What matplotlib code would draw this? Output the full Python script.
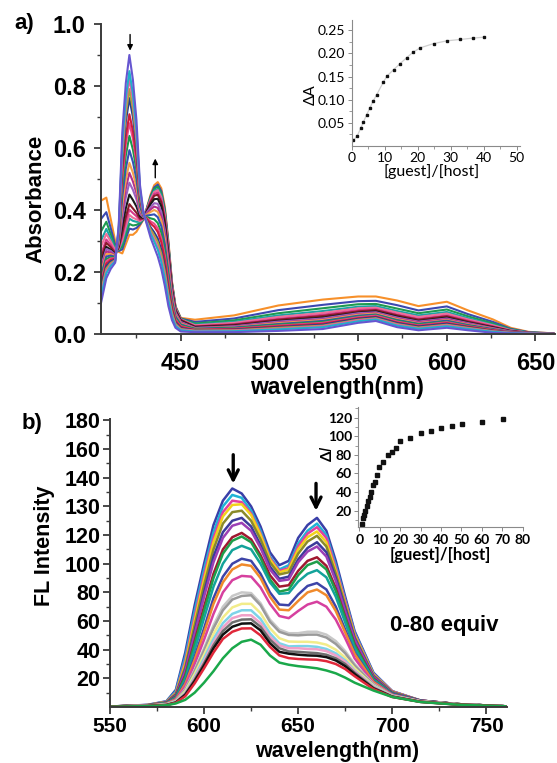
import matplotlib
matplotlib.use("Agg")
import matplotlib.pyplot as plt

plt.rcParams["font.family"] = ["Liberation Sans", "DejaVu Sans"]

# ---------------- panel a: absorbance titration ----------------
abs_wl = [405, 408, 410.5, 413, 415, 417, 419, 421, 423, 425, 427, 429, 431, 433, 435,
          437, 439, 441, 443, 445, 447, 450, 458, 480, 505, 530, 550, 560, 572, 584,
          600, 612, 626, 636, 646, 660]

abs_curves = [
    [0.100, 0.180, 0.210, 0.230, 0.350, 0.650, 0.810, 0.900, 0.820, 0.690, 0.480, 0.390, 0.350, 0.310, 0.280, 0.250, 0.210, 0.155, 0.090, 0.045, 0.020, 0.008, 0.006, 0.006, 0.010, 0.016, 0.036, 0.042, 0.022, 0.012, 0.020, 0.012, 0.004, 0.002, 0.001, 0.000],
    [0.120, 0.196, 0.220, 0.234, 0.342, 0.615, 0.763, 0.848, 0.775, 0.658, 0.468, 0.388, 0.355, 0.323, 0.298, 0.272, 0.233, 0.178, 0.109, 0.056, 0.026, 0.012, 0.008, 0.009, 0.015, 0.022, 0.041, 0.047, 0.027, 0.017, 0.025, 0.016, 0.007, 0.003, 0.001, 0.000],
    [0.130, 0.203, 0.224, 0.236, 0.339, 0.599, 0.742, 0.825, 0.755, 0.643, 0.463, 0.387, 0.358, 0.328, 0.306, 0.281, 0.244, 0.188, 0.117, 0.061, 0.029, 0.014, 0.010, 0.011, 0.017, 0.025, 0.044, 0.049, 0.030, 0.019, 0.028, 0.018, 0.008, 0.004, 0.002, 0.000],
    [0.140, 0.211, 0.229, 0.238, 0.334, 0.576, 0.711, 0.790, 0.725, 0.622, 0.455, 0.386, 0.361, 0.337, 0.318, 0.296, 0.259, 0.203, 0.130, 0.069, 0.033, 0.016, 0.011, 0.012, 0.020, 0.027, 0.046, 0.051, 0.032, 0.021, 0.030, 0.020, 0.009, 0.004, 0.002, 0.000],
    [0.150, 0.219, 0.234, 0.240, 0.330, 0.556, 0.685, 0.761, 0.700, 0.604, 0.449, 0.385, 0.364, 0.344, 0.328, 0.308, 0.272, 0.216, 0.140, 0.075, 0.037, 0.019, 0.012, 0.014, 0.022, 0.030, 0.049, 0.054, 0.035, 0.024, 0.033, 0.022, 0.010, 0.005, 0.002, 0.000],
    [0.159, 0.227, 0.239, 0.243, 0.322, 0.521, 0.638, 0.709, 0.655, 0.571, 0.437, 0.383, 0.370, 0.356, 0.346, 0.329, 0.296, 0.239, 0.159, 0.086, 0.043, 0.023, 0.013, 0.016, 0.025, 0.033, 0.051, 0.056, 0.037, 0.026, 0.035, 0.024, 0.012, 0.005, 0.002, 0.000],
    [0.169, 0.235, 0.244, 0.245, 0.318, 0.502, 0.612, 0.680, 0.630, 0.553, 0.431, 0.382, 0.373, 0.363, 0.356, 0.341, 0.309, 0.252, 0.170, 0.093, 0.047, 0.025, 0.014, 0.017, 0.027, 0.036, 0.054, 0.059, 0.040, 0.028, 0.038, 0.025, 0.013, 0.006, 0.002, 0.000],
    [0.179, 0.242, 0.248, 0.247, 0.312, 0.474, 0.576, 0.639, 0.595, 0.528, 0.421, 0.381, 0.377, 0.373, 0.370, 0.358, 0.327, 0.270, 0.185, 0.101, 0.052, 0.028, 0.016, 0.019, 0.030, 0.039, 0.056, 0.061, 0.043, 0.031, 0.040, 0.027, 0.014, 0.006, 0.002, 0.000],
    [0.189, 0.250, 0.253, 0.249, 0.305, 0.443, 0.534, 0.593, 0.555, 0.499, 0.411, 0.379, 0.382, 0.384, 0.386, 0.377, 0.348, 0.290, 0.201, 0.111, 0.057, 0.031, 0.017, 0.021, 0.032, 0.042, 0.059, 0.063, 0.045, 0.033, 0.043, 0.029, 0.016, 0.007, 0.003, 0.001],
    [0.199, 0.258, 0.258, 0.251, 0.299, 0.416, 0.498, 0.552, 0.520, 0.474, 0.402, 0.378, 0.386, 0.394, 0.400, 0.394, 0.366, 0.308, 0.216, 0.120, 0.062, 0.034, 0.018, 0.022, 0.035, 0.045, 0.062, 0.066, 0.048, 0.035, 0.045, 0.031, 0.017, 0.007, 0.003, 0.001],
    [0.209, 0.266, 0.263, 0.253, 0.294, 0.395, 0.469, 0.520, 0.492, 0.454, 0.395, 0.377, 0.389, 0.402, 0.411, 0.407, 0.380, 0.322, 0.228, 0.127, 0.066, 0.037, 0.019, 0.024, 0.037, 0.047, 0.064, 0.068, 0.050, 0.038, 0.048, 0.033, 0.018, 0.008, 0.003, 0.001],
    [0.219, 0.274, 0.268, 0.255, 0.290, 0.373, 0.441, 0.488, 0.465, 0.434, 0.388, 0.376, 0.393, 0.409, 0.422, 0.420, 0.395, 0.336, 0.239, 0.134, 0.070, 0.039, 0.020, 0.025, 0.040, 0.050, 0.067, 0.070, 0.053, 0.040, 0.050, 0.035, 0.019, 0.008, 0.003, 0.001],
    [0.229, 0.281, 0.272, 0.257, 0.284, 0.347, 0.406, 0.450, 0.432, 0.411, 0.379, 0.374, 0.397, 0.419, 0.435, 0.436, 0.412, 0.353, 0.253, 0.142, 0.074, 0.042, 0.022, 0.027, 0.042, 0.053, 0.069, 0.073, 0.056, 0.042, 0.053, 0.037, 0.021, 0.009, 0.003, 0.001],
    [0.245, 0.294, 0.280, 0.261, 0.279, 0.326, 0.378, 0.419, 0.405, 0.391, 0.372, 0.373, 0.400, 0.426, 0.446, 0.449, 0.426, 0.367, 0.264, 0.149, 0.078, 0.045, 0.024, 0.030, 0.046, 0.058, 0.073, 0.077, 0.060, 0.046, 0.057, 0.040, 0.023, 0.010, 0.004, 0.001],
    [0.258, 0.305, 0.287, 0.264, 0.277, 0.315, 0.363, 0.401, 0.390, 0.380, 0.368, 0.373, 0.402, 0.430, 0.452, 0.456, 0.434, 0.374, 0.271, 0.153, 0.080, 0.046, 0.025, 0.032, 0.049, 0.062, 0.077, 0.080, 0.063, 0.049, 0.060, 0.043, 0.025, 0.011, 0.004, 0.001],
    [0.282, 0.323, 0.298, 0.269, 0.274, 0.303, 0.347, 0.384, 0.375, 0.370, 0.364, 0.372, 0.403, 0.435, 0.458, 0.464, 0.441, 0.382, 0.277, 0.156, 0.082, 0.047, 0.028, 0.036, 0.055, 0.068, 0.083, 0.085, 0.069, 0.055, 0.066, 0.047, 0.028, 0.012, 0.004, 0.001],
    [0.301, 0.339, 0.308, 0.273, 0.273, 0.295, 0.337, 0.372, 0.365, 0.362, 0.362, 0.372, 0.405, 0.437, 0.462, 0.468, 0.447, 0.387, 0.281, 0.159, 0.084, 0.048, 0.030, 0.039, 0.060, 0.074, 0.088, 0.090, 0.074, 0.060, 0.071, 0.051, 0.030, 0.013, 0.005, 0.001],
    [0.331, 0.362, 0.322, 0.279, 0.270, 0.283, 0.321, 0.355, 0.350, 0.352, 0.358, 0.371, 0.406, 0.442, 0.468, 0.476, 0.454, 0.395, 0.287, 0.163, 0.086, 0.049, 0.034, 0.044, 0.067, 0.083, 0.096, 0.097, 0.082, 0.067, 0.079, 0.057, 0.034, 0.015, 0.005, 0.001],
    [0.371, 0.393, 0.341, 0.287, 0.268, 0.273, 0.308, 0.340, 0.337, 0.342, 0.354, 0.371, 0.408, 0.445, 0.473, 0.482, 0.461, 0.401, 0.293, 0.166, 0.088, 0.050, 0.039, 0.050, 0.077, 0.094, 0.106, 0.107, 0.093, 0.076, 0.089, 0.064, 0.039, 0.017, 0.006, 0.002],
    [0.430, 0.440, 0.370, 0.300, 0.265, 0.260, 0.290, 0.320, 0.320, 0.330, 0.350, 0.370, 0.410, 0.450, 0.480, 0.490, 0.470, 0.410, 0.300, 0.170, 0.090, 0.052, 0.046, 0.060, 0.092, 0.111, 0.121, 0.121, 0.108, 0.090, 0.104, 0.076, 0.047, 0.020, 0.007, 0.002],
]

abs_colors = ["#6656d0", "#20b2c8", "#e65fa5", "#a8a63a", "#2a3990", "#d01c3c", "#e84a8a",
              "#179a4a", "#3550b5", "#f5a04a", "#b2308e", "#9a62c0", "#1a1a1a", "#8b1a2b",
              "#d63a8a", "#f0709a", "#1aa3a3", "#1e9a50", "#3c48b0", "#f7902a"]

# inset a: delta A vs ratio
ins_a_x = [0.5, 1.7, 2.7, 3.5, 4.5, 5.5, 6.5, 7.6, 9.6, 10.7, 12.7, 14.7, 16.7, 18.7,
           20.8, 24.8, 28.8, 32.9, 36.9, 40.1]
ins_a_y = [0.012, 0.022, 0.038, 0.051, 0.067, 0.082, 0.097, 0.111, 0.138, 0.151, 0.165,
           0.178, 0.191, 0.203, 0.212, 0.221, 0.227, 0.230, 0.233, 0.235]

# ---------------- panel b: fluorescence titration ----------------
fl_wl = [550, 570, 580, 585, 590, 595, 600, 605, 610, 615, 620, 625, 630, 635, 640, 645,
         650, 655, 660, 665, 670, 675, 680, 690, 700, 715, 735, 760]

fl_curves = [
    [0.3, 1.5, 4, 12, 38, 71, 100, 127, 144, 152.5, 149, 140, 126, 108, 99, 102, 118, 127, 132, 123, 102, 77, 53, 24, 11, 4.5, 2, 0.5],
    [0.3, 1.4, 3.8, 11, 35, 67, 96, 122, 140, 148, 146, 137, 123, 105, 96, 99, 114, 123, 128, 120, 99, 75, 52, 23.5, 11, 4.5, 2, 0.5],
    [0.3, 1.4, 3.6, 10, 32, 63, 92, 118, 136, 144, 143, 135, 121, 104, 95, 97, 112, 121, 125.5, 118, 97, 74, 51, 23, 11, 4.5, 2, 0.5],
    [0.3, 1.3, 3.5, 9.5, 30, 60, 89, 115, 133, 141, 141.5, 134, 120, 103, 94, 96, 110, 118.5, 122.5, 115, 95, 72, 50, 22.5, 10.5, 4.5, 2, 0.5],
    [0.3, 1.3, 3.4, 9, 28, 57, 85, 110, 128, 136, 137, 130, 117, 101, 92.5, 94, 107, 115.5, 119.5, 112, 93, 71, 49, 22, 10.5, 4.5, 2, 0.5],
    [0.3, 1.2, 3.2, 8.5, 26, 53, 80, 105, 122, 130, 132, 126, 113, 98, 89.5, 91, 103, 111, 115, 108, 90, 69, 48, 21.5, 10, 4.5, 2, 0.5],
    [0.3, 1.2, 3.1, 8, 25, 51, 77, 101, 118, 126.5, 128.5, 123, 111, 96, 88, 89, 101, 108.5, 112, 105, 88, 67, 47, 21, 10, 4.5, 2, 0.5],
    [0.3, 1.1, 2.9, 7.5, 22, 46, 70, 93, 110, 118.5, 121.5, 117, 106, 92, 84, 85, 95, 102, 104.5, 98.5, 83, 63, 44, 20, 9.5, 4.3, 2, 0.5],
    [0.3, 1.1, 2.8, 7, 21, 44, 67, 90, 107, 116, 119, 115, 104, 89, 80.5, 82, 92, 99, 101.5, 96, 81, 62, 43, 19.5, 9.5, 4.2, 2, 0.5],
    [0.3, 1.0, 2.6, 6.5, 19, 40, 62, 84, 100, 109.5, 112.5, 110, 100, 87, 79, 79.5, 87.5, 93, 95.5, 90.5, 77, 59, 41, 19, 9, 4.2, 2, 0.5],
    [0.3, 1.0, 2.4, 6, 17, 35, 55, 76, 91, 100, 103.5, 102, 93, 80, 71.5, 71, 78.5, 84.5, 86.5, 82, 70, 54, 38, 18, 9, 4.2, 2, 0.5],
    [0.3, 1.0, 2.3, 5.5, 16, 33, 52, 72, 87, 96, 99.5, 98.5, 90, 77, 68, 67.5, 74, 80, 82, 78, 67, 52, 37, 17.5, 8.5, 4, 2, 0.5],
    [0.3, 0.9, 2.1, 5, 14.5, 30, 47, 65, 80, 88.5, 91.5, 91, 83.5, 72, 63.5, 62, 67, 71.5, 73.5, 70, 61, 48, 34, 16.5, 8.5, 4, 1.9, 0.5],
    [0.3, 0.8, 1.9, 4.5, 12.5, 26, 41, 57, 70, 77.5, 80, 79.5, 72.5, 61, 54, 51.5, 51.5, 52.5, 52.5, 50.5, 46, 39, 30, 16, 8, 4, 1.9, 0.5],
    [0.3, 0.8, 1.8, 4.3, 12, 25, 39.5, 55, 67.5, 75, 77.5, 78, 71, 59.5, 52.5, 50.3, 50, 50.5, 50.5, 48.5, 44, 37.5, 29, 15.5, 8, 4, 1.9, 0.5],
    [0.3, 0.8, 1.7, 4, 11, 23, 36.5, 51, 62.5, 69.5, 72, 72, 65.5, 55, 48, 45.7, 45.5, 45.5, 45, 43.5, 40, 34.5, 27, 15, 7.8, 3.9, 1.8, 0.5],
    [0.3, 0.7, 1.6, 3.7, 10, 21, 34, 47.5, 58.5, 65, 67.5, 67.5, 61.5, 51.5, 44.5, 42.3, 42.5, 42.5, 42, 40.5, 37.5, 32.5, 25.5, 14.5, 7.6, 3.8, 1.8, 0.5],
    [0.3, 0.7, 1.5, 3.5, 9.5, 20, 32, 45, 55.5, 62, 64, 64, 58.5, 49, 43, 41, 41, 40.5, 40.3, 39, 36, 31.5, 25, 14, 7.5, 3.8, 1.8, 0.5],
    [0.3, 0.7, 1.4, 3.3, 9, 19, 30.5, 43, 53, 59, 61, 61.2, 56, 47, 41, 38.8, 38.5, 38, 37.6, 36.5, 34, 30, 24, 13.5, 7.3, 3.7, 1.8, 0.5],
    [0.3, 0.7, 1.4, 3.1, 8.5, 18, 29, 41, 50.5, 56, 58.2, 58.4, 53.5, 44.5, 38.5, 37.2, 36.5, 36, 35.8, 34.8, 32.5, 28.5, 23, 13, 7.2, 3.6, 1.7, 0.5],
    [0.3, 0.6, 1.3, 2.9, 7.5, 16.5, 27, 38, 47.5, 52.5, 54.8, 54.9, 50, 42, 36, 34.1, 33.5, 33.2, 33, 32, 30, 26.5, 21.5, 12.5, 7, 3.6, 1.7, 0.5],
    [0.2, 0.6, 1.2, 2.5, 5, 10, 17, 25, 34, 41, 45.5, 47, 43.5, 36, 31, 29.5, 28.5, 27.8, 27, 25.5, 23.5, 20.5, 17, 11.5, 7, 3.5, 1.6, 0.5],
]

fl_colors = ["#3a3fa8", "#1fb3d6", "#e040a0", "#f2d21b", "#8a8a2a", "#3b3b9b", "#9b3fb5",
             "#a01830", "#1f9e4a", "#13a39a", "#3d44a8", "#f08a2c", "#d6409f", "#c8c8c8",
             "#9a9a9a", "#f2ec8a", "#7dd3e8", "#f0a0c8", "#6e6e6e", "#111111", "#e0283a",
             "#1aa84a"]

# tick labels of the fluorescence axis as printed (evenly spaced)
fl_ytick_labels = ["20", "40", "60", "80", "100", "120", "130", "140", "160", "180"]

# inset b: delta I vs ratio
ins_b_x = [1.1, 1.8, 2.5, 3.0, 3.6, 4.4, 5.1, 5.9, 6.7, 7.7, 8.9, 9.8, 11.8, 13.9, 16.1,
           18.0, 20.0, 24.9, 30.0, 35.1, 40.2, 45.2, 50.3, 60.3, 70.3]
ins_b_y = [5.7, 12.5, 15.4, 20, 25.4, 30.5, 35, 39.8, 47.3, 51.3, 58.8, 67.4, 72.4, 79.9,
           83.2, 87.8, 95, 98.2, 103.2, 106, 108.6, 111, 113.3, 115.8, 118.6]

AXIS = "#3a3a3a"
INSET_FONT = ["Lato", "DejaVu Sans"]


def _main_axes(ax):
    for s in ("top", "right"):
        ax.spines[s].set_visible(False)
    for s in ("left", "bottom"):
        ax.spines[s].set_linewidth(1.4)
        ax.spines[s].set_color(AXIS)
    ax.tick_params(which="major", length=5, width=1.3, direction="out", color=AXIS)
    ax.tick_params(which="minor", length=3, width=1.0, direction="out", color=AXIS)


def _inset_axes(ax):
    for s in ("top", "right"):
        ax.spines[s].set_visible(False)
    for s in ("left", "bottom"):
        ax.spines[s].set_linewidth(0.8)
        ax.spines[s].set_color("#8a8a8a")
    ax.tick_params(which="major", length=3, width=0.7, direction="out", color="#8a8a8a", pad=1.5)
    ax.tick_params(which="minor", length=2, width=0.6, direction="out", color="#8a8a8a")


fig = plt.figure(figsize=(5.57, 7.63), dpi=100)

# ---- panel a
ax_a = fig.add_axes([101 / 557, 1 - 334 / 763, 454 / 557, 310 / 763])
for ys, col in list(zip(abs_curves, abs_colors))[::-1]:
    ax_a.plot(abs_wl, ys, color=col, lw=1.5, solid_joinstyle="round")
ax_a.set_xlim(405, 661)
ax_a.set_ylim(0, 1.0)
_main_axes(ax_a)
ax_a.set_xticks([450, 500, 550, 600, 650])
ax_a.set_xticks([425, 475, 525, 575, 625], minor=True)
ax_a.set_xticklabels(["450", "500", "550", "600", "650"], fontsize=17, fontweight="bold")
ax_a.set_yticks([0, 0.2, 0.4, 0.6, 0.8, 1.0])
ax_a.set_yticks([0.1, 0.3, 0.5, 0.7, 0.9], minor=True)
ax_a.set_yticklabels(["0.0", "0.2", "0.4", "0.6", "0.8", "1.0"], fontsize=17, fontweight="bold")
ax_a.tick_params(axis="x", which="major", pad=8)
ax_a.tick_params(axis="y", which="major", pad=6)
ax_a.set_xlabel("wavelength(nm)", fontsize=16.5, fontweight="bold", va="center")
ax_a.xaxis.set_label_coords(0.52, -0.171)
ax_a.set_ylabel("Absorbance", fontsize=16, fontweight="bold", va="center")
ax_a.yaxis.set_label_coords(-0.143, 0.435)

ax_a.annotate("", xy=(421.4, 0.905), xytext=(421.4, 0.975),
              arrowprops=dict(arrowstyle="-|>", color="black", lw=1.0, mutation_scale=8))
ax_a.annotate("", xy=(435.6, 0.575), xytext=(435.6, 0.495),
              arrowprops=dict(arrowstyle="-|>", color="black", lw=1.0, mutation_scale=8))

fig.text(24 / 557, 1 - 23 / 763, "a)", fontsize=16, fontweight="bold", ha="center", va="center")

# ---- inset a
ins_a = fig.add_axes([351.7 / 557, 1 - 146 / 763, 168.3 / 557, 126 / 763])
ins_a.plot(ins_a_x, ins_a_y, color="#cfcfcf", lw=0.9)
ins_a.plot(ins_a_x, ins_a_y, ls="none", marker="s", ms=2.1, color="#111111")
ins_a.set_xlim(0, 51)
ins_a.set_ylim(0, 0.272)
_inset_axes(ins_a)
ins_a.set_xticks([0, 10, 20, 30, 40, 50])
ins_a.set_xticks([5, 15, 25, 35, 45], minor=True)
ins_a.set_xticklabels(["0", "10", "20", "30", "40", "50"], fontsize=10, family=INSET_FONT)
ins_a.set_yticks([0.05, 0.10, 0.15, 0.20, 0.25])
ins_a.set_yticks([0.025, 0.075, 0.125, 0.175, 0.225], minor=True)
ins_a.set_yticklabels(["0.05", "0.10", "0.15", "0.20", "0.25"], fontsize=10, family=INSET_FONT)
ins_a.set_xlabel("[guest]/[host]", fontsize=11.5, family=INSET_FONT, va="top")
ins_a.xaxis.set_label_coords(0.477, -0.14)
ins_a.set_ylabel("ΔA", fontsize=11, family=INSET_FONT, va="center")
ins_a.yaxis.set_label_coords((311 - 351.7) / 168.3, (146 - 95) / 126)

# ---- panel b
B_BOTTOM, B_TOP = 707, 419
b_h = B_BOTTOM - B_TOP
ax_b = fig.add_axes([110 / 557, 1 - B_BOTTOM / 763, 397 / 557, b_h / 763])
for ys, col in zip(fl_curves, fl_colors):
    ax_b.plot(fl_wl, ys, color=col, lw=1.8, solid_joinstyle="round")
ax_b.set_xlim(550, 761)
ax_b.set_ylim(0, 201)
_main_axes(ax_b)
ax_b.set_xticks([550, 600, 650, 700, 750])
ax_b.set_xticks([575, 625, 675, 725], minor=True)
ax_b.set_xticklabels(["550", "600", "650", "700", "750"], fontsize=15, fontweight="bold")
ax_b.set_yticks([20, 40, 60, 80, 100, 120, 140, 160, 180, 200])
ax_b.set_yticks([10, 30, 50, 70, 90, 110, 130, 150, 170, 190], minor=True)
ax_b.set_yticklabels(fl_ytick_labels, fontsize=15.5, fontweight="bold")
ax_b.tick_params(axis="x", which="major", pad=2.5)
ax_b.tick_params(axis="y", which="major", pad=2)
ax_b.set_xlabel("wavelength(nm)", fontsize=15.5, fontweight="bold", va="center")
ax_b.xaxis.set_label_coords(0.573, (B_BOTTOM - 751.5) / b_h)
ax_b.set_ylabel("FL Intensity", fontsize=15.5, fontweight="bold", va="center")
ax_b.yaxis.set_label_coords(-0.166, (B_BOTTOM - 546) / b_h)

ax_b.annotate("", xy=(615.5, 154), xytext=(615.5, 178),
              arrowprops=dict(arrowstyle="->", color="black", lw=2.4, mutation_scale=18))
ax_b.annotate("", xy=(659.5, 135), xytext=(659.5, 158),
              arrowprops=dict(arrowstyle="->", color="black", lw=2.4, mutation_scale=18))

fig.text(32 / 557, 1 - 423 / 763, "b)", fontsize=16, fontweight="bold", ha="center", va="center")
fig.text(444.5 / 557, 1 - 625 / 763, "0-80 equiv", fontsize=16, fontweight="bold",
         ha="center", va="center")

# ---- inset b
ins_b = fig.add_axes([358.3 / 557, 1 - 527.3 / 763, 164.4 / 557, 120.3 / 763])
ins_b.plot(ins_b_x, ins_b_y, ls="none", marker="s", ms=2.2, color="#111111")
ins_b.set_xlim(-0.5, 80)
ins_b.set_ylim(2.1, 131.5)
_inset_axes(ins_b)
ins_b.set_xticks([0, 10, 20, 30, 40, 50, 60, 70, 80])
ins_b.set_xticklabels(["0", "10", "20", "30", "40", "50", "60", "70", "80"], fontsize=10,
                      fontweight="bold", family=INSET_FONT)
ins_b.set_yticks([20, 40, 60, 80, 100, 120])
ins_b.set_yticks([10, 30, 50, 70, 90, 110, 130], minor=True)
ins_b.set_yticklabels(["20", "40", "60", "80", "100", "120"], fontsize=10, fontweight="bold",
                      family=INSET_FONT)
ins_b.set_xlabel("[guest]/[host]", fontsize=12, fontweight="bold", family=INSET_FONT, va="top")
ins_b.xaxis.set_label_coords(0.497, -0.165)
ins_b.set_ylabel("Δ$\\it{I}$", fontsize=11, fontweight="bold", family=INSET_FONT, va="center")
ins_b.yaxis.set_label_coords((327 - 358.3) / 164.4, (527.3 - 454) / 120.3)

fig.savefig("out.png", dpi=100)
